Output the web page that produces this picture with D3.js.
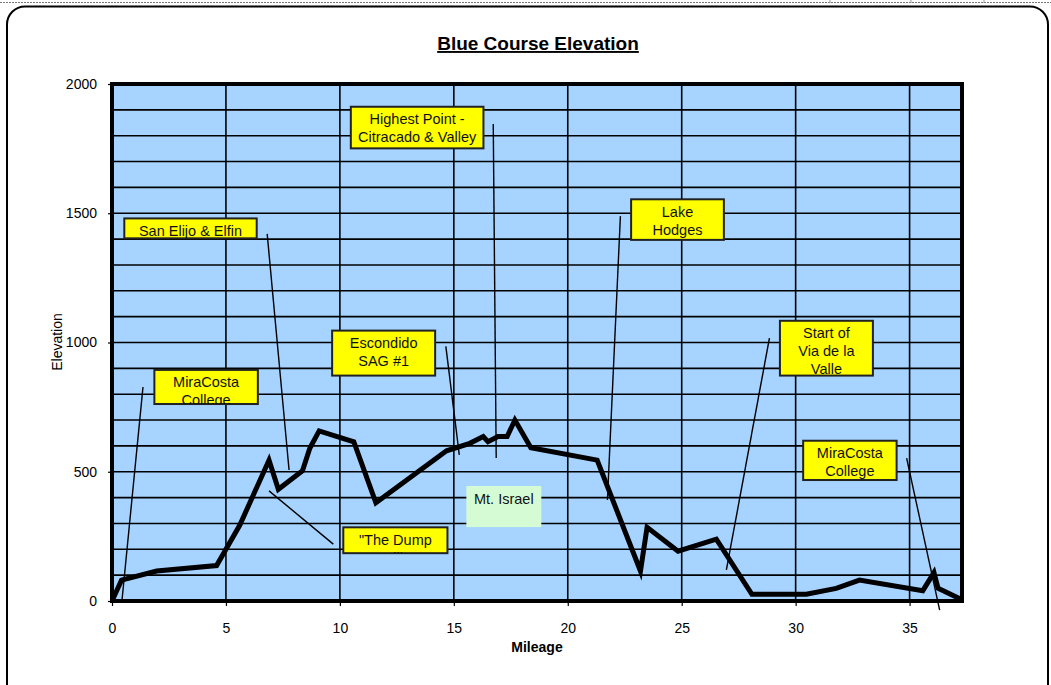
<!DOCTYPE html>
<html>
<head>
<meta charset="utf-8">
<script src="https://cdn.jsdelivr.net/npm/d3@7"></script>
<style>
body { margin: 0; background: #fff; }
text { font-family: "Liberation Sans", Arial, sans-serif; fill: #000; }
</style>
</head>
<body>
<div id="chart"></div>
<script>
// course profile
var mileage = [0, 0.42, 1.96, 4.59, 5.61, 6.89, 7.3, 8.36, 8.68, 9.09, 10.61, 11.58,
    14.68, 15.7, 16.29, 16.5, 16.94, 17.34, 17.68, 18.38, 21.29, 23.19, 23.48,
    24.84, 26.52, 28.08, 30.47, 31.78, 32.8, 35.58, 36.07, 36.25, 37.3];
var elevation = [0, 81, 116, 137, 294, 545, 432, 504, 591, 658, 616, 380,
    581, 610, 636, 616, 636, 636, 700, 593, 545, 116, 285,
    193, 239, 26, 26, 49, 81, 40, 110, 49, 5];

var xTicks = [0, 5, 10, 15, 20, 25, 30, 35];
var yTicks = [0, 500, 1000, 1500, 2000];
var yGrid = d3.range(100, 2000, 100);

var noteLabels = [
    ["Highest Point -", "Citracado & Valley", "Mt. Israel Hill"],
    ["San Elijo & Elfin"],
    ["MiraCosta", "College"],
    ["Escondido", "SAG #1"],
    ["Lake", "Hodges"],
    ["Start of", "Via de la", "Valle"],
    ["MiraCosta", "College"],
    ["\"The Dump", "Hill\""],
    ["Mt. Israel"]
];

// box corners and leader ends, in mileage / elevation units
var noteBoxes = [
    [10.48, 16.30, 1912, 1751],
    [0.54, 6.35, 1480, 1403],
    [1.86, 6.40, 894, 762],
    [9.66, 14.18, 1046, 872],
    [22.78, 26.85, 1554, 1397],
    [29.31, 33.39, 1084, 872],
    [30.33, 34.43, 620, 468],
    [10.15, 14.72, 285, 185],
    [15.55, 18.84, 445, 286]
];
var noteLeaders = [
    [16.73, 1845, 16.86, 553],
    [6.81, 1420, 7.77, 507],
    [1.36, 828, 0.44, 4],
    [14.65, 985, 15.24, 565],
    [22.31, 1489, 21.74, 391],
    [28.85, 1017, 26.96, 120],
    [34.87, 553, 36.32, -35],
    [6.89, 426, 9.71, 220],
    null
];

var W = 1051, H = 685;
var margin = { top: 84, right: 89, bottom: 84, left: 112 };
var width = W - margin.left - margin.right,
    height = H - margin.top - margin.bottom;

var svg = d3.select("#chart").append("svg")
    .attr("width", W)
    .attr("height", H);

// sheet edges and the rounded chart frame
svg.append("line")
    .attr("x1", 0).attr("x2", W)
    .attr("y1", 2.5).attr("y2", 2.5)
    .attr("stroke", "#777")
    .attr("stroke-dasharray", "2,1");
[830, 911, 984].forEach(function(x) {
    svg.append("line")
        .attr("x1", x).attr("x2", x)
        .attr("y1", 0).attr("y2", 3)
        .attr("stroke", "#999");
});
svg.append("rect")
    .attr("x", 7).attr("y", 6.5)
    .attr("width", 1041).attr("height", 720)
    .attr("rx", 18)
    .attr("fill", "none")
    .attr("stroke", "#000")
    .attr("stroke-width", 2);

svg.append("text")
    .attr("x", 538).attr("y", 50)
    .attr("text-anchor", "middle")
    .style("font-size", "19px")
    .style("font-weight", "bold")
    .style("text-decoration", "underline")
    .text("Blue Course Elevation");

var g = svg.append("g")
    .attr("transform", "translate(" + margin.left + "," + margin.top + ")");

var x = d3.scaleLinear().domain([0, 37.3]).range([0, width]);
var y = d3.scaleLinear().domain([0, 2000]).range([height, 0]);

g.append("rect")
    .attr("width", width)
    .attr("height", height)
    .attr("fill", "#a6d3ff");

// grid
g.selectAll(".hgrid").data(yGrid).enter().append("line")
    .attr("class", "hgrid")
    .attr("x1", 0).attr("x2", width)
    .attr("y1", function(d) { return y(d); })
    .attr("y2", function(d) { return y(d); })
    .attr("stroke", "#000")
    .attr("stroke-width", 1.6);
g.selectAll(".vgrid").data(xTicks.slice(1)).enter().append("line")
    .attr("class", "vgrid")
    .attr("y1", 0).attr("y2", height)
    .attr("x1", function(d) { return x(d); })
    .attr("x2", function(d) { return x(d); })
    .attr("stroke", "#000")
    .attr("stroke-width", 1.6);

// elevation line
var pts = mileage.map(function(m, i) { return [m, elevation[i]]; });
g.append("path")
    .datum(pts)
    .attr("fill", "none")
    .attr("stroke", "#000")
    .attr("stroke-width", 5)
    .attr("stroke-linejoin", "miter")
    .attr("d", d3.line()
        .x(function(d) { return x(d[0]); })
        .y(function(d) { return y(d[1]); }));

// axes
var xAxis = d3.axisBottom(x).tickValues(xTicks).tickSize(5).tickPadding(17);
var yAxis = d3.axisLeft(y).tickValues(yTicks).tickSize(4).tickPadding(11)
    .tickFormat(d3.format("d"));

var gx = g.append("g")
    .attr("transform", "translate(0," + height + ")")
    .call(xAxis);
var gy = g.append("g").call(yAxis);
[gx, gy].forEach(function(a) {
    a.select(".domain").remove();
    a.selectAll("line").attr("stroke", "#000").attr("stroke-width", 1.2);
    a.selectAll("text")
        .style("font-size", "14px")
        .style("font-family", "\"Liberation Sans\", Arial, sans-serif");
});

// annotations
g.selectAll(".leader").data(noteLeaders.filter(function(d) { return d; }))
    .enter().append("line")
    .attr("class", "leader")
    .attr("x1", function(d) { return x(d[0]); })
    .attr("y1", function(d) { return y(d[1]); })
    .attr("x2", function(d) { return x(d[2]); })
    .attr("y2", function(d) { return y(d[3]); })
    .attr("stroke", "#000")
    .attr("stroke-width", 1.4);

var defs = svg.append("defs");
noteBoxes.forEach(function(b, i) {
    var bx = x(b[0]), by = y(b[2]),
        bw = x(b[1]) - x(b[0]), bh = y(b[3]) - y(b[2]);
    var isGreen = (i === noteBoxes.length - 1);

    defs.append("clipPath").attr("id", "note" + i)
        .append("rect")
        .attr("x", bx).attr("y", by)
        .attr("width", bw).attr("height", bh);

    var note = g.append("g");
    note.append("rect")
        .attr("x", bx).attr("y", by)
        .attr("width", bw).attr("height", bh)
        .attr("fill", isGreen ? "#d5fbd5" : "#ffff00")
        .attr("stroke", isGreen ? "none" : "#222")
        .attr("stroke-width", 2);
    note.append("g")
        .attr("clip-path", "url(#note" + i + ")")
        .selectAll("text").data(noteLabels[i]).enter().append("text")
        .attr("x", bx + bw / 2)
        .attr("y", function(d, j) { return by + (isGreen ? 18.5 : 17.5) + j * 17.8; })
        .attr("text-anchor", "middle")
        .style("font-size", "14.5px")
        .style("fill", "#111")
        .text(function(d) { return d; });
});

// plot frame
g.append("rect")
    .attr("width", width)
    .attr("height", height)
    .attr("fill", "none")
    .attr("stroke", "#000")
    .attr("stroke-width", 4);

svg.append("text")
    .attr("transform", "translate(57,342) rotate(-90)")
    .attr("text-anchor", "middle")
    .attr("dy", "0.35em")
    .style("font-size", "14px")
    .text("Elevation");

svg.append("text")
    .attr("x", 537).attr("y", 652)
    .attr("text-anchor", "middle")
    .style("font-size", "14px")
    .style("font-weight", "bold")
    .text("Mileage");
</script>
</body>
</html>
